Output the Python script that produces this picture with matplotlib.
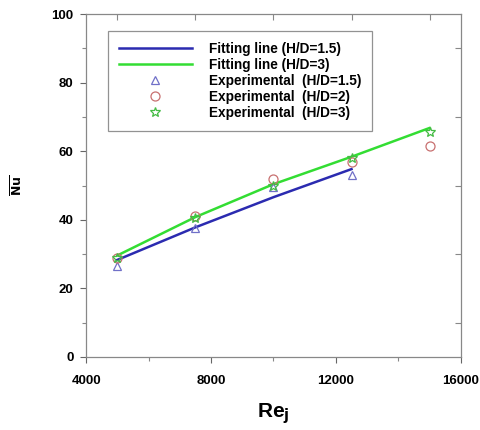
import matplotlib
matplotlib.use("Agg")
import matplotlib.pyplot as plt

re_all = [5000, 7500, 10000, 12500, 15000]
re_15 = [5000, 7500, 10000, 12500]
nu_exp_15 = [26.5, 37.6, 49.5, 53.2]
nu_exp_2 = [29.0, 41.0, 51.8, 57.0, 61.6]
nu_exp_3 = [29.0, 40.6, 49.8, 58.0, 65.6]
nu_fit_15 = [28.3, 37.8, 46.6, 54.8]
nu_fit_3 = [29.6, 40.8, 50.4, 58.4, 66.8]

plt.rcParams['font.family'] = ['Liberation Sans', 'DejaVu Sans']
fig = plt.figure(figsize=(4.81, 4.30), dpi=100)
ax = fig.add_axes([0.179, 0.170, 0.779, 0.797])

ax.plot(re_15, nu_fit_15, color='#2b2bb0', lw=1.8, label='Fitting line (H/D=1.5)')
ax.plot(re_all, nu_fit_3, color='#33dd33', lw=1.8, label='Fitting line (H/D=3)')
ax.plot(re_15, nu_exp_15, ls='none', marker='^', ms=6, mfc='none', mec='#7070c8', mew=0.9,
        label='Experimental  (H/D=1.5)')
ax.plot(re_all, nu_exp_2, ls='none', marker='o', ms=6.5, mfc='none', mec='#c87070', mew=0.9,
        label='Experimental  (H/D=2)')
ax.plot(re_all, nu_exp_3, ls='none', marker='*', ms=7, mfc='none', mec='#44bb44', mew=0.9,
        label='Experimental  (H/D=3)')

ax.set_xlim(4000, 16000)
ax.set_ylim(0, 100)
ax.set_xticks([4000, 8000, 12000, 16000])
ax.set_xticks([6000, 10000, 14000], minor=True)
ax.set_yticks([0, 20, 40, 60, 80, 100])
ax.set_yticks([10, 30, 50, 70, 90], minor=True)
ax.tick_params(axis='both', which='major', direction='out', length=4, width=0.8, color='#666666',
               labelsize=9.5)
ax.tick_params(axis='x', which='major', pad=9)
ax.tick_params(axis='y', which='major', pad=5)
ax.tick_params(axis='both', which='minor', direction='out', length=3, width=0.8, color='#888888')
for lab in ax.get_xticklabels() + ax.get_yticklabels():
    lab.set_fontweight('bold')
for s in ax.spines.values():
    s.set_color('#888888')
    s.set_linewidth(0.9)

sec_x = ax.secondary_xaxis('top')
sec_x.set_xticks(re_all)
sec_x.tick_params(direction='in', length=4, color='#888888', labeltop=False)
sec_x.spines['top'].set_visible(False)
sec_y = ax.secondary_yaxis('right')
sec_y.set_yticks([10, 30, 50, 70, 90])
sec_y.tick_params(direction='in', length=4, color='#888888', labelright=False)
sec_y.spines['right'].set_visible(False)

ax.set_xlabel(r'Re$_\mathbf{j}$', fontsize=15, fontweight='bold', labelpad=10)
ax.set_ylabel(r'$\overline{\mathbf{Nu}}$', fontsize=9, fontweight='bold', labelpad=19)

leg = ax.legend(loc='upper left', bbox_to_anchor=(0.058, 0.952), frameon=True,
                fancybox=False, edgecolor='#777777', handlelength=5.4, handletextpad=1.2,
                borderpad=0.8, labelspacing=0.15, borderaxespad=0,
                prop={'weight': 'bold', 'size': 9.8})
leg.get_frame().set_linewidth(0.9)

fig.savefig('out.png', dpi=100)
